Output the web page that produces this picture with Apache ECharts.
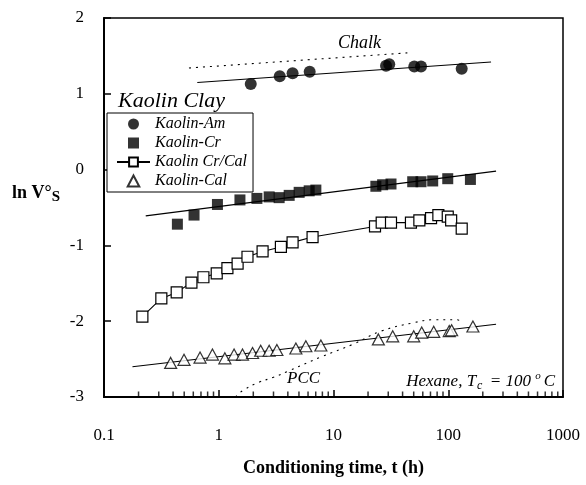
<!DOCTYPE html>
<html>
<head>
<meta charset="utf-8">
<script src="https://cdn.jsdelivr.net/npm/echarts@6/dist/echarts.min.js"></script>
<style>
html,body{margin:0;padding:0;background:#fff;}
#c{width:586px;height:485px;}
</style>
</head>
<body>
<div id="c"></div>
<script>
// ---- data ----
const xTickLabels = ['0.1', '1', '10', '100', '1000'];
const yTickLabels = ['-3', '-2', '-1', '0', '1', '2'];
const minorTickValues = [0.2,0.3,0.4,0.5,0.6,0.7,0.8,0.9, 2,3,4,5,6,7,8,9, 20,30,40,50,60,70,80,90, 200,300,400,500,600,700,800,900];

const amT = [1.9, 3.4, 4.4, 6.2, 28.7, 30.6, 50.6, 57.9, 131];
const amV = [1.13, 1.23, 1.27, 1.29, 1.37, 1.39, 1.36, 1.36, 1.33];
const amFitT = [0.65, 236];
const amFitV = [1.15, 1.42];

const chalkT = [0.55, 44];
const chalkV = [1.34, 1.54];

const crT = [0.436,0.609,0.974,1.53,2.15,2.75,3.36,4.11,5.02,6.14,7.02,23.4,26.8,31.7,49.0,57.9,73.2,99,156];
const crV = [-0.72,-0.60,-0.46,-0.40,-0.38,-0.36,-0.37,-0.34,-0.30,-0.28,-0.27,-0.22,-0.20,-0.19,-0.16,-0.16,-0.15,-0.12,-0.13];
const crFitT = [0.231, 261];
const crFitV = [-0.61, -0.02];

const crcT = [0.216,0.316,0.43,0.578,0.735,0.96,1.19,1.46,1.78,2.41,3.48,4.40,6.57,23.0,26.3,31.7,47.3,56.0,70.8,82.0,99,106,131];
const crcV = [-1.94,-1.70,-1.62,-1.49,-1.42,-1.37,-1.30,-1.24,-1.15,-1.08,-1.02,-0.96,-0.89,-0.75,-0.70,-0.70,-0.70,-0.67,-0.64,-0.60,-0.62,-0.67,-0.78];

const calT = [0.381,0.498,0.687,0.881,1.13,1.36,1.61,1.97,2.32,2.75,3.21,4.70,5.74,7.76,24.6,32.8,50.0,58.7,74.7,102,107,164];
const calV = [-2.55,-2.51,-2.48,-2.44,-2.49,-2.44,-2.44,-2.42,-2.39,-2.39,-2.38,-2.36,-2.33,-2.32,-2.24,-2.20,-2.20,-2.15,-2.14,-2.13,-2.12,-2.07];
const calFitT = [0.177, 261];
const calFitV = [-2.60, -2.04];

const pccT = [1.4, 1.6, 2.2, 3.0, 4.0, 7.8, 15, 26, 50, 75, 120, 133];
const pccV = [-3.0, -2.92, -2.81, -2.74, -2.66, -2.47, -2.30, -2.13, -2.02, -1.98, -1.98, -2.04];

const seriesNames = ['Kaolin-Am', 'Kaolin-Cr', 'Kaolin Cr/Cal', 'Kaolin-Cal'];

// ---- helpers ----
const zip = (a, b) => a.map((v, i) => [v, b[i]]);
const FONT = 'Liberation Serif';
const SQUARE = 'path://M0,0H10V10H0Z';
const TRI = 'path://M5,0L10,9.5L0,9.5Z';

const chart = echarts.init(document.getElementById('c'), null, {renderer: 'canvas'});

const fitLine = (t, v, type) => ({
  type: 'line', data: zip(t, v), symbol: 'none', silent: true,
  lineStyle: {color: '#000', width: 1.1, type: type || 'solid'}, z: 1
});

chart.setOption({
  animation: false,
  backgroundColor: '#fff',
  grid: {left: 104, right: 23, top: 18, bottom: 88, show: true, borderColor: '#000', borderWidth: 1.5, backgroundColor: 'transparent'},
  xAxis: {
    type: 'log', logBase: 10, min: 0.1, max: 1000,
    name: 'Conditioning time, t (h)', nameLocation: 'middle', nameGap: 62,
    nameTextStyle: {fontFamily: FONT, fontWeight: 'bold', fontSize: 18, color: '#000'},
    axisLine: {show: true, onZero: false, lineStyle: {color: '#000', width: 2}},
    axisTick: {show: true, inside: true, length: 7, lineStyle: {color: '#000', width: 1.5}},
    axisLabel: {
      margin: 30, fontFamily: FONT, fontSize: 17, color: '#000',
      formatter: v => xTickLabels[Math.round(Math.log10(v)) + 1]
    },
    splitLine: {show: false},
    z: 10
  },
  yAxis: {
    type: 'value', min: -3, max: 2, interval: 1,
    axisLine: {show: true, onZero: false, lineStyle: {color: '#000', width: 2}},
    axisTick: {inside: true, length: 7, lineStyle: {color: '#000', width: 1.5}},
    axisLabel: {
      margin: 20, fontFamily: FONT, fontSize: 17, color: '#000',
      formatter: v => yTickLabels[Math.round(v) + 3]
    },
    splitLine: {show: false}
  },
  legend: {
    data: [
      {name: 'Kaolin-Am', icon: 'circle'},
      {name: 'Kaolin-Cr', icon: SQUARE},
      {name: 'Kaolin Cr/Cal'},
      {name: 'Kaolin-Cal', icon: TRI}
    ],
    orient: 'vertical', left: 107, top: 113,
    backgroundColor: '#fff', borderColor: '#000', borderWidth: 1,
    padding: [3, 6, 3, 9], itemGap: 3, itemWidth: 33, itemHeight: 11,
    symbolKeepAspect: true,
    textStyle: {fontFamily: FONT, fontStyle: 'italic', fontSize: 16, color: '#000', lineHeight: 16},
    selectedMode: false
  },
  graphic: [
    {type: 'text', left: 118, top: 90, z: 100,
     style: {text: 'Kaolin Clay', font: 'italic 22px "Liberation Serif"', fill: '#000'}},
    {type: 'text', left: 12, top: 184, z: 100,
     style: {text: '{b|ln V°}{s|S}',
       rich: {b: {fontFamily: FONT, fontWeight: 'bold', fontSize: 18, fill: '#000'},
              s: {fontFamily: FONT, fontWeight: 'bold', fontSize: 15, padding: [8, 0, 0, 0], fill: '#000'}}}},
    {type: 'text', left: 338, top: 34, z: 100,
     style: {text: 'Chalk', font: 'italic 18px "Liberation Serif"', fill: '#000', backgroundColor: '#fff'}},
    {type: 'text', left: 287, top: 370, z: 100,
     style: {text: 'PCC', font: 'italic 17px "Liberation Serif"', fill: '#000', backgroundColor: '#fff'}},
    {type: 'text', right: 31, top: 371, z: 100,
     style: {text: '{i|Hexane, T}{sub|c}{i| = 100 }{sup|o}{i|C}',
       rich: {i: {fontFamily: FONT, fontStyle: 'italic', fontSize: 17, fill: '#000'},
              sub: {fontFamily: FONT, fontStyle: 'italic', fontSize: 12, padding: [8, 3, 0, 1], fill: '#000'},
              sup: {fontFamily: FONT, fontStyle: 'italic', fontSize: 11, padding: [0, 3, 10, 0], fill: '#000'}}}}
  ],
  series: [
    fitLine(amFitT, amFitV),
    fitLine(chalkT, chalkV, [2, 5]),
    fitLine(crFitT, crFitV),
    fitLine(calFitT, calFitV),
    Object.assign(fitLine(pccT, pccV, [2, 5]), {smooth: 0.4}),
    {
      name: 'Kaolin-Am', type: 'scatter', data: zip(amT, amV), symbol: 'circle', symbolSize: 12,
      itemStyle: {color: '#000'}, z: 3
    },
    {
      name: 'Kaolin-Cr', type: 'scatter', data: zip(crT, crV), symbol: 'rect', symbolSize: 11,
      symbolKeepAspect: true,
      itemStyle: {color: '#000'}, z: 3
    },
    {
      name: 'Kaolin Cr/Cal', type: 'line', data: zip(crcT, crcV), symbol: 'rect', symbolSize: 11,
      showAllSymbol: true,
      lineStyle: {color: '#000', width: 1.1},
      itemStyle: {color: '#fff', borderColor: '#000', borderWidth: 1.2}, z: 3
    },
    {
      name: 'Kaolin-Cal', type: 'scatter', data: zip(calT, calV), symbol: 'triangle', symbolSize: [12, 11],
      symbolKeepAspect: true,
      itemStyle: {color: '#fff', borderColor: '#000', borderWidth: 1.2}, z: 3
    },
    {
      type: 'scatter', silent: true, clip: false, data: minorTickValues.map(t => [t, -3]),
      symbol: 'rect', symbolSize: [1.5, 5], symbolOffset: [0, -3],
      itemStyle: {color: '#000'}, z: 5
    }
  ]
});
</script>
</body>
</html>
